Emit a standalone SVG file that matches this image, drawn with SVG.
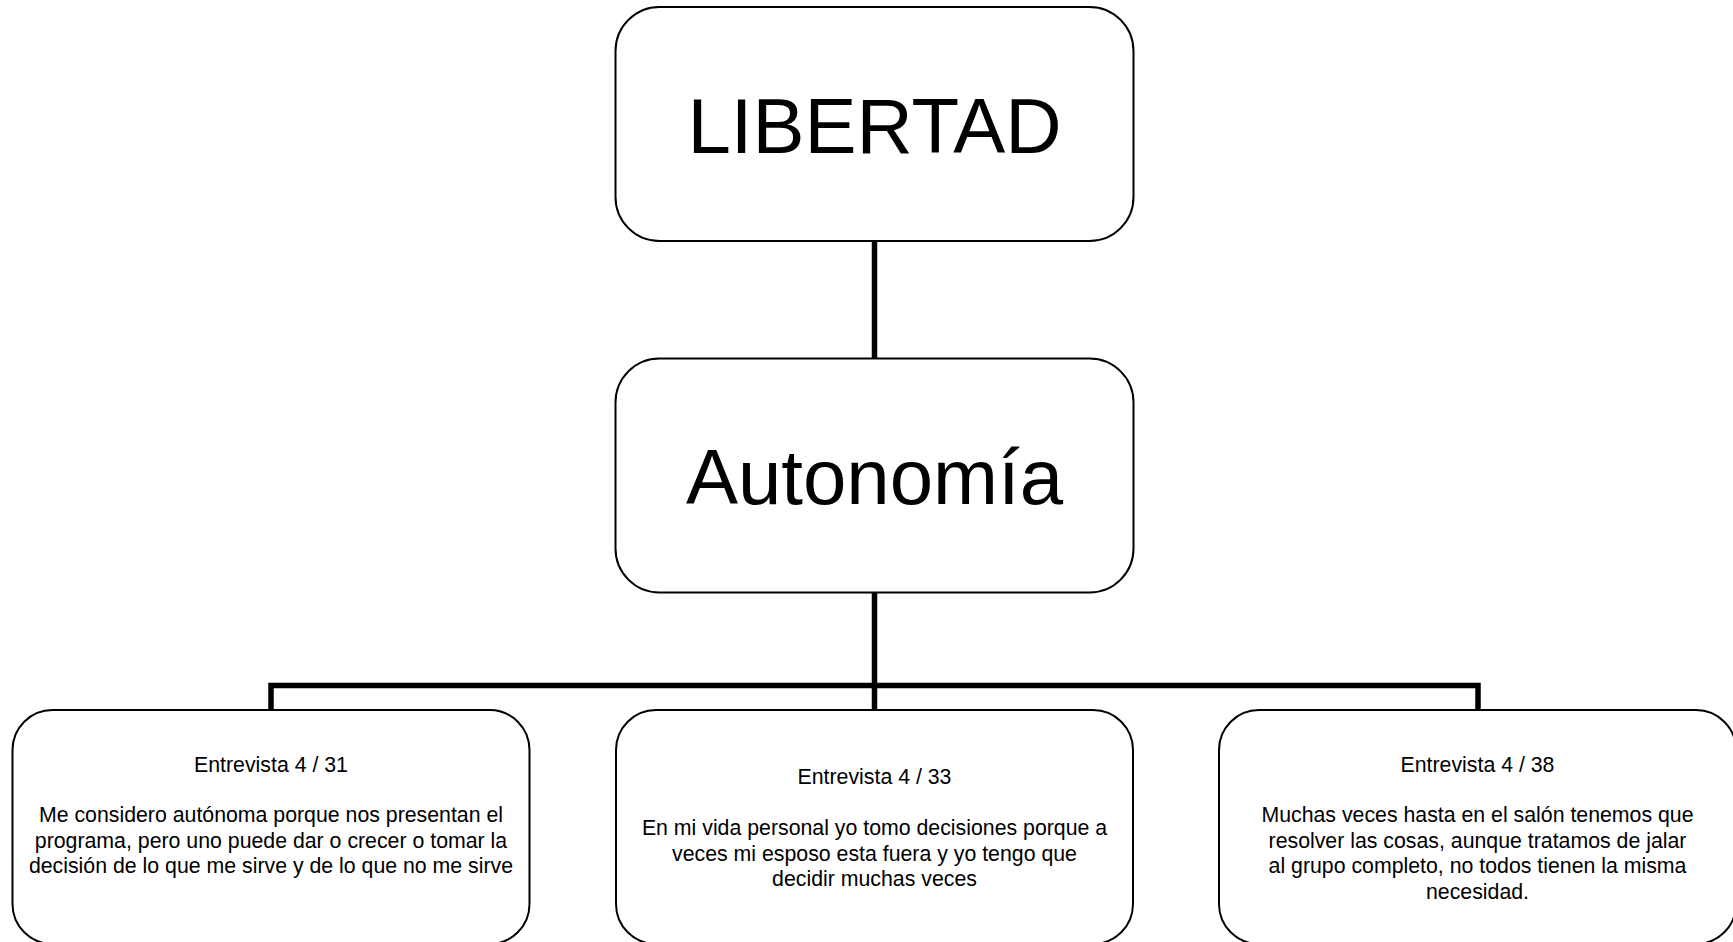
<svg xmlns="http://www.w3.org/2000/svg" width="1733" height="942" viewBox="0 0 1733 942">
<style>
.box{fill:#ffffff;stroke:#000000;stroke-width:2}
.conn{fill:none;stroke:#000000;stroke-width:5.5;stroke-linecap:butt}
.big{font-family:"Liberation Sans",Arial,sans-serif;font-size:78px;fill:#000000;text-anchor:middle}
.small{font-family:"Liberation Sans",Arial,sans-serif;font-size:21.3px;fill:#000000;text-anchor:middle}
</style>
<rect width="1733" height="942" fill="#ffffff"/>
<g id="connectors">
<line class="conn" x1="874.5" y1="241" x2="874.5" y2="358.5"/>
<line class="conn" x1="874.5" y1="592.5" x2="874.5" y2="710"/>
<polyline class="conn" points="271,710 271,685.5 1478,685.5 1478,710"/>
</g>
<g id="node-libertad">
<rect class="box" x="615.5" y="7" width="518" height="234" rx="44" ry="44"/>
<text class="big" x="874.5" y="153">LIBERTAD</text>
</g>
<g id="node-autonomia">
<rect class="box" x="615.5" y="358.5" width="518" height="234" rx="44" ry="44"/>
<text class="big" x="874.5" y="504">Autonomía</text>
</g>
<g id="node-e31">
<rect class="box" x="12.5" y="710" width="517" height="234" rx="40" ry="40"/>
<text class="small" x="271" y="771.5">Entrevista 4 / 31</text>
<text class="small" x="271" y="822.3">Me considero autónoma porque nos presentan el</text>
<text class="small" x="271" y="847.7">programa, pero uno puede dar o crecer o tomar la</text>
<text class="small" x="271" y="873.1">decisión de lo que me sirve y de lo que no me sirve</text>
</g>
<g id="node-e33">
<rect class="box" x="616" y="710" width="517" height="234" rx="40" ry="40"/>
<text class="small" x="874.5" y="784">Entrevista 4 / 33</text>
<text class="small" x="874.5" y="835.2">En mi vida personal yo tomo decisiones porque a</text>
<text class="small" x="874.5" y="860.6">veces mi esposo esta fuera y yo tengo que</text>
<text class="small" x="874.5" y="886">decidir muchas veces</text>
</g>
<g id="node-e38">
<rect class="box" x="1219" y="710" width="517" height="234" rx="40" ry="40"/>
<text class="small" x="1477.5" y="771.5">Entrevista 4 / 38</text>
<text class="small" x="1477.5" y="822.3">Muchas veces hasta en el salón tenemos que</text>
<text class="small" x="1477.5" y="847.7">resolver las cosas, aunque tratamos de jalar</text>
<text class="small" x="1477.5" y="873.1">al grupo completo, no todos tienen la misma</text>
<text class="small" x="1477.5" y="898.5">necesidad.</text>
</g>
</svg>
